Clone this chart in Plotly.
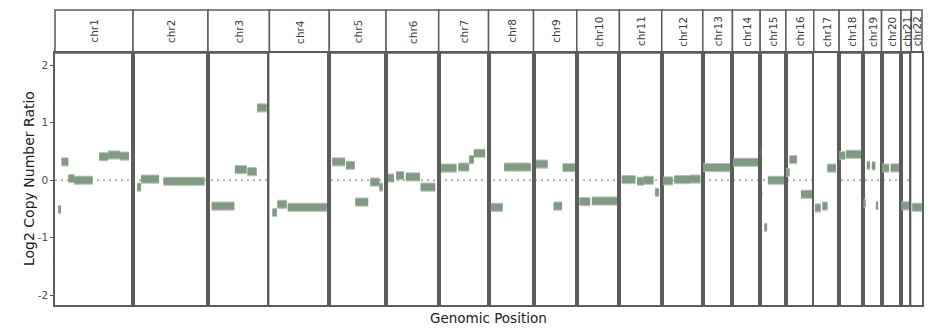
import plotly.graph_objects as go
from plotly.subplots import make_subplots

chromosomes = ["chr1", "chr2", "chr3", "chr4", "chr5", "chr6", "chr7", "chr8", "chr9", "chr10", "chr11",
               "chr12", "chr13", "chr14", "chr15", "chr16", "chr17", "chr18", "chr19", "chr20", "chr21", "chr22"]
chrom_span_mb = [249, 239, 196, 191, 181, 168, 159, 143.5, 138, 136, 135,
                 131, 94.5, 88.5, 82, 89, 80.7, 77.5, 58, 62, 33, 34]

seg_chrom = (["chr1"] * 7 + ["chr2"] * 3 + ["chr3"] * 4 + ["chr4"] * 3 + ["chr5"] * 5 + ["chr6"] * 4 +
             ["chr7"] * 4 + ["chr8"] * 3 + ["chr9"] * 3 + ["chr10"] * 2 + ["chr11"] * 4 + ["chr12"] * 3 +
             ["chr13"] * 1 + ["chr14"] * 1 + ["chr15"] * 2 + ["chr16"] * 3 + ["chr17"] * 3 + ["chr18"] * 2 +
             ["chr19"] * 5 + ["chr20"] * 2 + ["chr21"] * 1 + ["chr22"] * 1)
seg_start = [10.5, 21, 42.5, 61.5, 141, 170, 207,
             12.8, 25.5, 97,
             11.8, 86, 126, 157,
             9.6, 25.5, 58.5,
             9.6, 53.5, 83, 131, 160,
             6.4, 32, 63, 110.5,
             7.3, 63, 97, 112,
             7.3, 50, 100,
             8, 64, 93,
             8.5, 48,
             7.7, 56, 77, 114,
             5, 40, 90,
             2,
             3,
             13.5, 24.5,
             1, 11.5, 48,
             4, 27.5, 43.5,
             1, 21.5,
             0.5, 11, 27, 40, 54.5,
             3, 29,
             2,
             3]
seg_end = [19, 42.5, 61.5, 120, 170, 207, 236,
           25.5, 83, 228,
           84, 123, 155, 187,
           23.4, 55, 183,
           50, 81, 124, 160, 170,
           25.5, 57, 108, 157,
           56.5, 97, 112, 148,
           45, 100, 135,
           45, 91, 132,
           42.5, 128,
           51, 77, 108.5, 126,
           35, 90, 123,
           90,
           85,
           22, 77,
           11.5, 35, 86,
           22, 43.5, 71,
           19, 74,
           7.5, 21, 38, 47, 57,
           24, 60,
           31,
           33]
seg_log2 = [-0.51, 0.32, 0.03, 0.0, 0.41, 0.44, 0.42,
            -0.12, 0.02, -0.02,
            -0.45, 0.185, 0.15, 1.26,
            -0.56, -0.42, -0.47,
            0.32, 0.26, -0.38, -0.03, -0.12,
            0.04, 0.08, 0.06, -0.12,
            0.21, 0.23, 0.36, 0.47,
            -0.47, 0.23, 0.23,
            0.28, -0.45, 0.22,
            -0.37, -0.36,
            0.01, -0.02, 0.0, -0.21,
            -0.01, 0.01, 0.02,
            0.22,
            0.31,
            -0.82, 0.0,
            0.14, 0.36, -0.245,
            -0.48, -0.45, 0.21,
            0.43, 0.45,
            -0.40, 0.26, 0.25, -0.44, -0.02,
            0.21, 0.215,
            -0.445,
            -0.47]

# faint marks from other samples
mark_chrom = ["chr15", "chr15", "chr15"]
mark_start = [4.5, 5.0, 6.0]
mark_end = [5.5, 6.5, 7.0]
mark_log2 = [0.5, 0.05, -0.25]
mark_sample = ["B", "C", "B"]

y_ticks = [-2, -1, 0, 1, 2]

ncol = len(chromosomes)
fig = make_subplots(rows=1, cols=ncol, column_widths=chrom_span_mb, horizontal_spacing=0,
                    shared_yaxes=True)

main_col = "#809a83"
edge_col = "#b4c5b6"
pink = "rgba(238,130,125,0.5)"
sample_cols = {"B": "#8fb8e6", "C": "#e8a060"}

for i, chrom in enumerate(chromosomes):
    col = i + 1
    xs, ys, xp, yp = [], [], [], []
    for c, s, e, v in zip(seg_chrom, seg_start, seg_end, seg_log2):
        if c == chrom:
            xs += [s, e, None]
            ys += [v, v, None]
            xp += [s, e, None]
            yp += [v - 0.07, v - 0.07, None]
    fig.add_trace(go.Scatter(x=xp, y=yp, mode="lines", line=dict(color=pink, width=1.3),
                             hoverinfo="skip", showlegend=False), row=1, col=col)
    fig.add_trace(go.Scatter(x=xs, y=ys, mode="lines", line=dict(color=edge_col, width=9),
                             hoverinfo="skip", showlegend=False), row=1, col=col)
    fig.add_trace(go.Scatter(x=xs, y=ys, mode="lines", line=dict(color=main_col, width=7),
                             showlegend=False), row=1, col=col)
    for c, s, e, v, smp in zip(mark_chrom, mark_start, mark_end, mark_log2, mark_sample):
        if c == chrom:
            fig.add_trace(go.Scatter(x=[s, e], y=[v, v], mode="lines",
                                     line=dict(color=sample_cols[smp], width=6),
                                     hoverinfo="skip", showlegend=False), row=1, col=col)
    fig.update_xaxes(range=[0, chrom_span_mb[i]], showticklabels=False, ticks="", showgrid=False,
                     zeroline=False, showline=True, mirror=True, linecolor="#5c5c5c", linewidth=1.5,
                     row=1, col=col)
    fig.update_yaxes(range=[-2.17, 2.21], showgrid=False, zeroline=False, showline=True, mirror=True,
                     linecolor="#5c5c5c", linewidth=1.5, row=1, col=col)

ydom_top = 0.854
fig.update_yaxes(domain=[0, ydom_top])
fig.update_yaxes(tickvals=y_ticks, ticktext=[str(t) for t in y_ticks], ticks="outside", ticklen=3,
                 tickcolor="#4d4d4d", tickfont=dict(size=10.5, color="#4d4d4d"), row=1, col=1)

shapes = []
annotations = []
for i, chrom in enumerate(chromosomes):
    xa = fig.layout["xaxis" if i == 0 else f"xaxis{i + 1}"]
    d0, d1 = xa.domain
    shapes.append(dict(type="rect", xref="paper", yref="paper", x0=d0, x1=d1, y0=ydom_top, y1=1,
                       line=dict(color="#5c5c5c", width=1.5), fillcolor="white", layer="below"))
    annotations.append(dict(text=chrom, xref="paper", yref="paper", x=(d0 + d1) / 2,
                            y=(ydom_top + 1) / 2, textangle=-90, showarrow=False,
                            xanchor="center", yanchor="middle",
                            font=dict(size=10.5, color="#3a3a3a")))

shapes.append(dict(type="line", xref="paper", yref="y", x0=0, x1=1, y0=0, y1=0,
                   line=dict(color="#a0a0a0", width=1.5, dash="2px,4px"), layer="below"))

annotations.append(dict(text="Log2 Copy Number Ratio", xref="paper", yref="paper", x=0, xshift=-26,
                        y=ydom_top / 2, textangle=-90, showarrow=False, xanchor="center",
                        yanchor="middle", font=dict(size=14, color="#222222")))
annotations.append(dict(text="Genomic Position", xref="paper", yref="paper", x=0.5, y=-0.044,
                        xanchor="center", yanchor="middle", showarrow=False,
                        font=dict(size=13.5, color="#222222")))

fig.update_layout(width=940, height=330, margin=dict(l=55, r=18, t=10, b=25),
                  plot_bgcolor="white", paper_bgcolor="white", shapes=shapes, annotations=annotations,
                  font=dict(family="DejaVu Sans"), showlegend=False)

fig.write_html("out.html", config={"displayModeBar": False},
               post_script="document.body.style.margin='0';document.body.style.overflow='hidden';")
